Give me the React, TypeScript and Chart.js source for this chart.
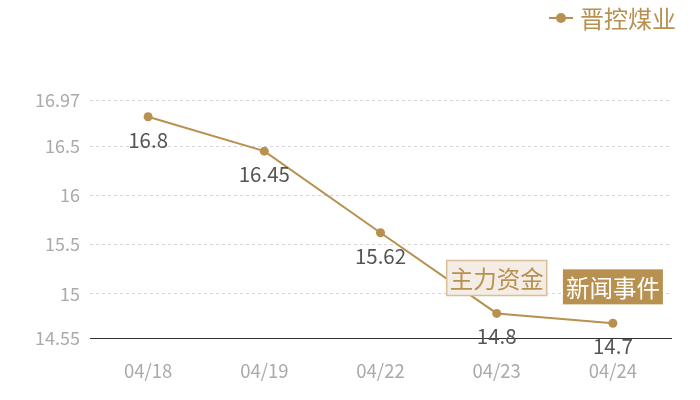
import { useEffect, useRef } from "react";
import { Chart, registerables } from "chart.js";

Chart.register(...registerables);

const categories = ["04/18", "04/19", "04/22", "04/23", "04/24"];
const prices = [16.8, 16.45, 15.62, 14.8, 14.7];
const yTicks = [14.55, 15, 15.5, 16, 16.5, 16.97];
const seriesName = "晋控煤业";

// event tags shown above points
const tagLabels = ["主力资金", "新闻事件"];
const tagIndexes = [3, 4];
const tagValues = [15.16, 15.07];

const GOLD = "#b8904f";
const FONT = "'Noto Sans CJK SC', 'Noto Sans', sans-serif";

const extrasPlugin = {
  id: "extras",
  afterDatasetsDraw(chart: any) {
    const { ctx } = chart;
    const x = chart.scales.x;
    const y = chart.scales.y;

    // value labels under points
    ctx.save();
    ctx.font = `20.5px ${FONT}`;
    ctx.fillStyle = "#555";
    ctx.textAlign = "center";
    ctx.textBaseline = "middle";
    prices.forEach((v, i) => {
      ctx.fillText(String(v), x.getPixelForValue(i), y.getPixelForValue(v) + 23);
    });

    // tags
    ctx.font = `23.5px ${FONT}`;
    tagLabels.forEach((t, i) => {
      const cx = x.getPixelForValue(tagIndexes[i]);
      const cy = y.getPixelForValue(tagValues[i]);
      const w = 100;
      const h = 35;
      if (i === 0) {
        ctx.fillStyle = "#f4ede5";
        ctx.fillRect(cx - w / 2, cy - h / 2, w, h);
        ctx.strokeStyle = "#d8bf99";
        ctx.lineWidth = 1.5;
        ctx.strokeRect(cx - w / 2, cy - h / 2, w, h);
        ctx.fillStyle = GOLD;
      } else {
        ctx.fillStyle = GOLD;
        ctx.fillRect(cx - w / 2, cy - h / 2, w, h);
        ctx.fillStyle = "#fff";
      }
      ctx.fillText(t, cx, cy + 1);
    });

    // legend
    const lx = 549;
    const ly = 18;
    ctx.strokeStyle = GOLD;
    ctx.lineWidth = 2;
    ctx.beginPath();
    ctx.moveTo(lx, ly);
    ctx.lineTo(lx + 24, ly);
    ctx.stroke();
    ctx.fillStyle = GOLD;
    ctx.beginPath();
    ctx.arc(lx + 12, ly, 5, 0, Math.PI * 2);
    ctx.fill();
    ctx.font = `24px ${FONT}`;
    ctx.textAlign = "left";
    ctx.fillText(seriesName, lx + 31, ly + 1);
    ctx.restore();
  },
};

export default function App() {
  const canvasRef = useRef<HTMLCanvasElement>(null);
  const chartRef = useRef<Chart | null>(null);

  useEffect(() => {
    document.body.style.margin = "0";
    if (!canvasRef.current) return;
    if (chartRef.current) chartRef.current.destroy();

    chartRef.current = new Chart(canvasRef.current, {
      type: "line",
      data: {
        labels: categories,
        datasets: [
          {
            label: seriesName,
            data: prices,
            borderColor: GOLD,
            backgroundColor: GOLD,
            borderWidth: 2,
            pointRadius: 4.5,
            pointBackgroundColor: GOLD,
            pointBorderWidth: 0,
            tension: 0,
            fill: false,
          },
        ],
      },
      options: {
        animation: false,
        responsive: true,
        maintainAspectRatio: false,
        layout: { padding: { top: 100, right: 29, left: 0, bottom: 0 } },
        plugins: {
          legend: { display: false },
          tooltip: { enabled: false },
        },
        scales: {
          x: {
            offset: true,
            grid: { display: false, drawTicks: false },
            border: { display: true, color: "#333", width: 1 },
            ticks: { color: "#aaa", font: { size: 18.5, family: FONT }, padding: 22 },
            afterFit: (s: any) => {
              s.height = 62;
            },
          },
          y: {
            min: 14.55,
            max: 16.97,
            afterBuildTicks: (s: any) => {
              s.ticks = yTicks.map((v) => ({ value: v }));
            },
            afterFit: (s: any) => {
              s.width = 90;
            },
            grid: {
              drawTicks: false,
              color: (c: any) => (c.tick && c.tick.value === 14.55 ? "rgba(0,0,0,0)" : "#d6d6d6"),
            },
            border: { display: false, dash: [3, 3] },
            ticks: {
              color: "#aaa",
              font: { size: 18, family: FONT },
              padding: 10,
              callback: (v: any) => String(v),
            },
          },
        },
      },
      plugins: [extrasPlugin],
    });

    return () => {
      if (chartRef.current) {
        chartRef.current.destroy();
        chartRef.current = null;
      }
    };
  }, []);

  return (
    <div style={{ width: 700, height: 400, position: "relative" }}>
      <canvas ref={canvasRef} />
    </div>
  );
}
